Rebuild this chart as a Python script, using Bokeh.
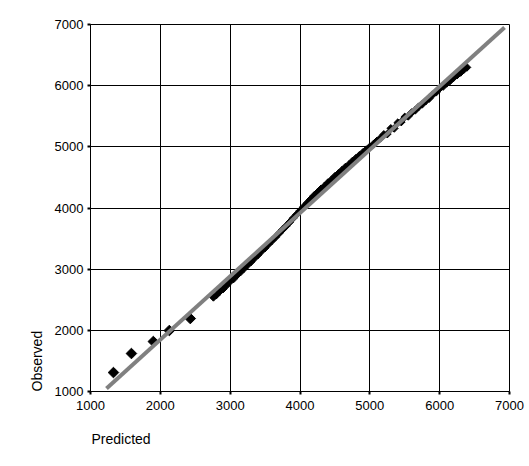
import math
from bokeh.plotting import figure
from bokeh.models import Range1d, FixedTicker, Title
from bokeh.embed import file_html
from bokeh.resources import INLINE

# Scattered low-end observations
predicted_low = [1329, 1586, 1900, 2129, 2429]
observed_low = [1310, 1621, 1817, 1997, 2193]

# Dense series
predicted = [2760, 2800, 2850, 2900, 2950, 3000, 3050, 3100, 3150, 3200, 3250, 3300,
             3350, 3400, 3450, 3500, 3550, 3600, 3650, 3700, 3750, 3800, 3850, 3900,
             3950, 4000, 4050, 4100, 4150, 4200, 4250, 4300, 4350, 4400, 4450, 4500,
             4550, 4600, 4650, 4700, 4750, 4800, 4850, 4900, 4950, 5000, 5050, 5100,
             5150, 5200, 5250, 5300, 5350, 5400, 5450, 5500, 5550, 5600, 5650, 5700,
             5750, 5800, 5850, 5900, 5950, 6000, 6050, 6100, 6150, 6200, 6250, 6300,
             6350, 6390]
observed = [2540, 2575, 2635, 2677, 2738, 2800, 2842, 2904, 2955, 3012, 3069, 3120,
            3182, 3234, 3296, 3347, 3409, 3466, 3523, 3585, 3646, 3703, 3765, 3832,
            3893, 3955, 4017, 4079, 4140, 4202, 4254, 4311, 4357, 4414, 4461, 4518,
            4564, 4616, 4668, 4710, 4766, 4813, 4860, 4907, 4953, 5000, 5042, 5094,
            5140, 5202, 5209, 5301, 5302, 5394, 5406, 5488, 5499, 5561, 5598, 5655,
            5696, 5748, 5790, 5852, 5893, 5955, 5987, 6039, 6080, 6132, 6174, 6216,
            6267, 6299]

# Fitted line endpoints
fit_x = [1229, 6929]
fit_y = [1050, 6950]

ticks = [1000, 2000, 3000, 4000, 5000, 6000, 7000]

p = figure(width=525, height=466, output_backend="svg", toolbar_location=None,
           x_range=Range1d(1000, 7000), y_range=Range1d(1000, 7000),
           min_border_left=90, min_border_right=16, min_border_top=24,
           min_border_bottom=75)
p.background_fill_color = "white"
p.border_fill_color = "white"
p.outline_line_color = "black"
p.outline_line_width = 1

for ax in (p.xaxis, p.yaxis):
    ax.ticker = FixedTicker(ticks=ticks)
    ax.axis_line_color = "black"
    ax.major_tick_in = 0
    ax.major_tick_out = 3
    ax.major_tick_line_width = 2
    ax.minor_tick_line_color = None
    ax.major_label_text_font = "Liberation Sans"
    ax.major_label_text_font_size = "13px"
    ax.major_label_text_color = "black"
p.yaxis.major_label_standoff = 4
p.xaxis.major_label_standoff = 6

for g in (p.xgrid, p.ygrid):
    g.ticker = FixedTicker(ticks=ticks)
    g.grid_line_color = "black"
    g.grid_line_width = 1
    g.grid_line_alpha = 1.0

p.scatter(predicted_low, observed_low, marker="square", size=7.5, angle=math.pi / 4,
          fill_color="black", line_color="black")
p.scatter(predicted, observed, marker="square", size=5.5, angle=math.pi / 4,
          fill_color="black", line_color="black")
p.line(fit_x, fit_y, line_color="#808080", line_width=4)

p.add_layout(Title(text="Predicted", align="left", offset=1, standoff=32,
                   text_font="Liberation Sans", text_font_size="14px",
                   text_font_style="normal", text_color="black"), "below")
p.add_layout(Title(text="Observed", align="left", offset=0, standoff=13,
                   text_font="Liberation Sans", text_font_size="14px",
                   text_font_style="normal", text_color="black"), "left")

open("out.html", "w").write(file_html(p, INLINE))
